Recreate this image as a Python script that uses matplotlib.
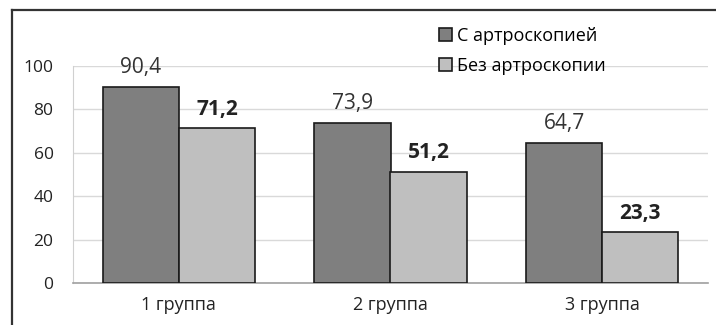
import matplotlib
matplotlib.use("Agg")
import matplotlib.pyplot as plt
from matplotlib.lines import Line2D
import numpy as np

plt.rcParams['font.family'] = ['Open Sans', 'DejaVu Sans']

groups = ["1 группа", "2 группа", "3 группа"]
series_names = ["С артроскопией", "Без артроскопии"]
with_arthro = [90.4, 73.9, 64.7]
without_arthro = [71.2, 51.2, 23.3]
yticks = [0, 20, 40, 60, 80, 100]

fig = plt.figure(figsize=(7.16, 3.25), dpi=100)
ax = fig.add_axes([73/716, 1 - 283/325, 635/716, 217/325])

x = np.arange(len(groups))
w = 0.36
b1 = ax.bar(x - w/2, with_arthro, w, color="#7f7f7f", edgecolor="#1a1a1a",
            linewidth=1.2, label=series_names[0], zorder=3)
b2 = ax.bar(x + w/2, without_arthro, w, color="#bfbfbf", edgecolor="#1a1a1a",
            linewidth=1.2, label=series_names[1], zorder=3)

# value labels: first series regular, second bold
for rect, v in zip(b1, with_arthro):
    ax.text(rect.get_x() + rect.get_width()/2, v + 4.0, f"{v:.1f}".replace(".", ","),
            ha="center", va="bottom", fontsize=15, color="#333333", clip_on=False)
for rect, v in zip(b2, without_arthro):
    ax.text(rect.get_x() + rect.get_width()/2, v + 4.0, f"{v:.1f}".replace(".", ","),
            ha="center", va="bottom", fontsize=15, fontweight="bold", color="#222222",
            clip_on=False)

ax.set_xlim(-0.5, 2.5)
ax.set_ylim(0, 100)
ax.set_yticks(yticks)
ax.set_xticks(x)
ax.set_xticklabels(groups)
ax.tick_params(axis="y", length=0, labelsize=12.5, colors="#222222", pad=14)
ax.tick_params(axis="x", length=0, labelsize=13, colors="#222222", pad=9)
ax.grid(axis="y", color="#d9d9d9", linewidth=1, zorder=0)
for s in ["top", "right"]:
    ax.spines[s].set_visible(False)
ax.spines["left"].set_color("#d0d0d0")
ax.spines["bottom"].set_color("#a0a0a0")
ax.spines["bottom"].set_linewidth(1.2)

fig.legend(loc="upper left", bbox_to_anchor=(430/716, 1 - 18/325), frameon=False,
           fontsize=13, handlelength=0.7, handleheight=0.7, handletextpad=0.3,
           labelspacing=0.65, borderpad=0)

# outer frame (left and top edges)
fig.add_artist(Line2D([12/716, 12/716], [0, 1 - 10/325], transform=fig.transFigure,
                      color="#333333", linewidth=1.6))
fig.add_artist(Line2D([12/716, 1], [1 - 10/325, 1 - 10/325], transform=fig.transFigure,
                      color="#333333", linewidth=1.6))

fig.savefig("out.png", dpi=100)
